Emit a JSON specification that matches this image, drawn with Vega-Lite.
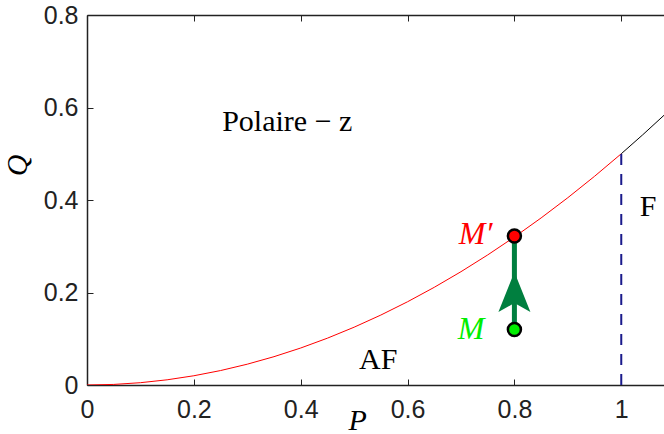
{
  "$schema": "https://vega.github.io/schema/vega-lite/v6.json",
  "width": 577,
  "height": 370,
  "autosize": {"type": "none"},
  "padding": {"left": 87, "top": 15, "right": 0, "bottom": 49},
  "background": "white",
  "config": {
    "view": {"stroke": null},
    "axis": {"grid": false, "labelFlush": false, "domainColor": "#222222", "tickColor": "#222222", "domainWidth": 1.5, "tickWidth": 1, "labelFont": "Liberation Sans", "labelFontSize": 25, "labelColor": "#222222", "titleFont": "Liberation Serif", "titleFontStyle": "italic", "titleFontWeight": "normal", "titleFontSize": 30, "titleColor": "black"}
  },
  "resolve": {"axis": {"x": "independent"}},
  "datasets": {
    "curveRed": [
      {"P": 0, "Q": 0}, {"P": 0.05, "Q": 0.00125}, {"P": 0.1, "Q": 0.005}, {"P": 0.15, "Q": 0.01125},
      {"P": 0.2, "Q": 0.02}, {"P": 0.25, "Q": 0.03125}, {"P": 0.3, "Q": 0.045}, {"P": 0.35, "Q": 0.06125},
      {"P": 0.4, "Q": 0.08}, {"P": 0.45, "Q": 0.10125}, {"P": 0.5, "Q": 0.125}, {"P": 0.55, "Q": 0.15125},
      {"P": 0.6, "Q": 0.18}, {"P": 0.65, "Q": 0.21125}, {"P": 0.7, "Q": 0.245}, {"P": 0.75, "Q": 0.28125},
      {"P": 0.8, "Q": 0.32}, {"P": 0.85, "Q": 0.36125}, {"P": 0.9, "Q": 0.405}, {"P": 0.95, "Q": 0.45125},
      {"P": 1.0, "Q": 0.5}
    ],
    "curveBlack": [
      {"P": 1.0, "Q": 0.5}, {"P": 1.04, "Q": 0.5408}, {"P": 1.08, "Q": 0.5832}
    ],
    "dash": [{"P": 1, "Q": 0}, {"P": 1, "Q": 0.5}],
    "arrow": [{"P": 0.8, "Q": 0.12}, {"P": 0.8, "Q": 0.322}],
    "head": [{"P": 0.8, "Q": 0.201}],
    "pts": [{"P": 0.8, "Q": 0.12, "c": "#00ee00"}, {"P": 0.8, "Q": 0.322, "c": "#ff0000"}],
    "polaire": [{"P": 0.253, "Q": 0.569, "t": "Polaire − z"}],
    "labels": [
      {"P": 0.545, "Q": 0.054, "t": "AF"},
      {"P": 1.05, "Q": 0.385, "t": "F"}
    ],
    "mlabels": [
      {"P": 0.759, "Q": 0.326, "t": "M′", "c": "#ff0000"},
      {"P": 0.744, "Q": 0.122, "t": "M", "c": "#00ee00"}
    ]
  },
  "layer": [
    {
      "data": {"name": "curveRed"},
      "mark": {"type": "line", "color": "#ff0000", "strokeWidth": 1, "clip": true},
      "encoding": {
        "x": {"field": "P", "type": "quantitative", "scale": {"domain": [0, 1.08], "nice": false, "zero": false},
          "axis": {"orient": "bottom", "values": [0, 0.2, 0.4, 0.6, 0.8, 1], "format": "~g", "tickSize": -6, "labelPadding": 18, "title": "P", "titleX": 261, "titleY": 44, "titleBaseline": "alphabetic", "titleAnchor": "start"}},
        "y": {"field": "Q", "type": "quantitative", "scale": {"domain": [0, 0.8], "nice": false},
          "axis": {"values": [0, 0.2, 0.4, 0.6, 0.8], "format": "~g", "tickSize": -6, "labelPadding": 15, "title": "Q", "titleX": -55, "titleY": 150, "titleAngle": -90}}
      }
    },
    {
      "data": {"name": "curveBlack"},
      "mark": {"type": "line", "color": "black", "strokeWidth": 1, "clip": true},
      "encoding": {
        "x": {"field": "P", "type": "quantitative", "axis": {"orient": "top", "values": [0, 0.2, 0.4, 0.6, 0.8, 1], "labels": false, "tickSize": -6, "title": null}},
        "y": {"field": "Q", "type": "quantitative"}
      }
    },
    {
      "data": {"name": "dash"},
      "mark": {"type": "line", "color": "#1a1a8c", "strokeWidth": 2, "strokeDash": [11, 9]},
      "encoding": {"x": {"field": "P", "type": "quantitative", "axis": null}, "y": {"field": "Q", "type": "quantitative"}}
    },
    {
      "data": {"name": "arrow"},
      "mark": {"type": "line", "color": "#007f3f", "strokeWidth": 5},
      "encoding": {"x": {"field": "P", "type": "quantitative", "axis": null}, "y": {"field": "Q", "type": "quantitative"}}
    },
    {
      "data": {"name": "head"},
      "mark": {"type": "point", "shape": "M0,-1L0.8,1L0,0.55L-0.8,1Z", "filled": true, "color": "#007f3f", "size": 1600, "opacity": 1},
      "encoding": {"x": {"field": "P", "type": "quantitative", "axis": null}, "y": {"field": "Q", "type": "quantitative"}}
    },
    {
      "data": {"name": "pts"},
      "mark": {"type": "point", "shape": "circle", "filled": true, "size": 170, "stroke": "black", "strokeWidth": 2.5, "opacity": 1},
      "encoding": {"x": {"field": "P", "type": "quantitative", "axis": null}, "y": {"field": "Q", "type": "quantitative"}, "fill": {"field": "c", "type": "nominal", "scale": null}}
    },
    {
      "data": {"name": "polaire"},
      "mark": {"type": "text", "font": "Liberation Serif", "fontSize": 30, "color": "black", "baseline": "middle", "align": "left"},
      "encoding": {"x": {"field": "P", "type": "quantitative", "axis": null}, "y": {"field": "Q", "type": "quantitative"}, "text": {"field": "t"}}
    },
    {
      "data": {"name": "labels"},
      "mark": {"type": "text", "font": "Liberation Serif", "fontSize": 30, "color": "black", "baseline": "middle", "align": "center"},
      "encoding": {"x": {"field": "P", "type": "quantitative", "axis": null}, "y": {"field": "Q", "type": "quantitative"}, "text": {"field": "t"}}
    },
    {
      "data": {"name": "mlabels"},
      "mark": {"type": "text", "font": "Liberation Serif", "fontStyle": "italic", "fontSize": 32, "align": "right", "baseline": "middle"},
      "encoding": {"x": {"field": "P", "type": "quantitative", "axis": null}, "y": {"field": "Q", "type": "quantitative"}, "text": {"field": "t"}, "color": {"field": "c", "type": "nominal", "scale": null}}
    }
  ]
}
